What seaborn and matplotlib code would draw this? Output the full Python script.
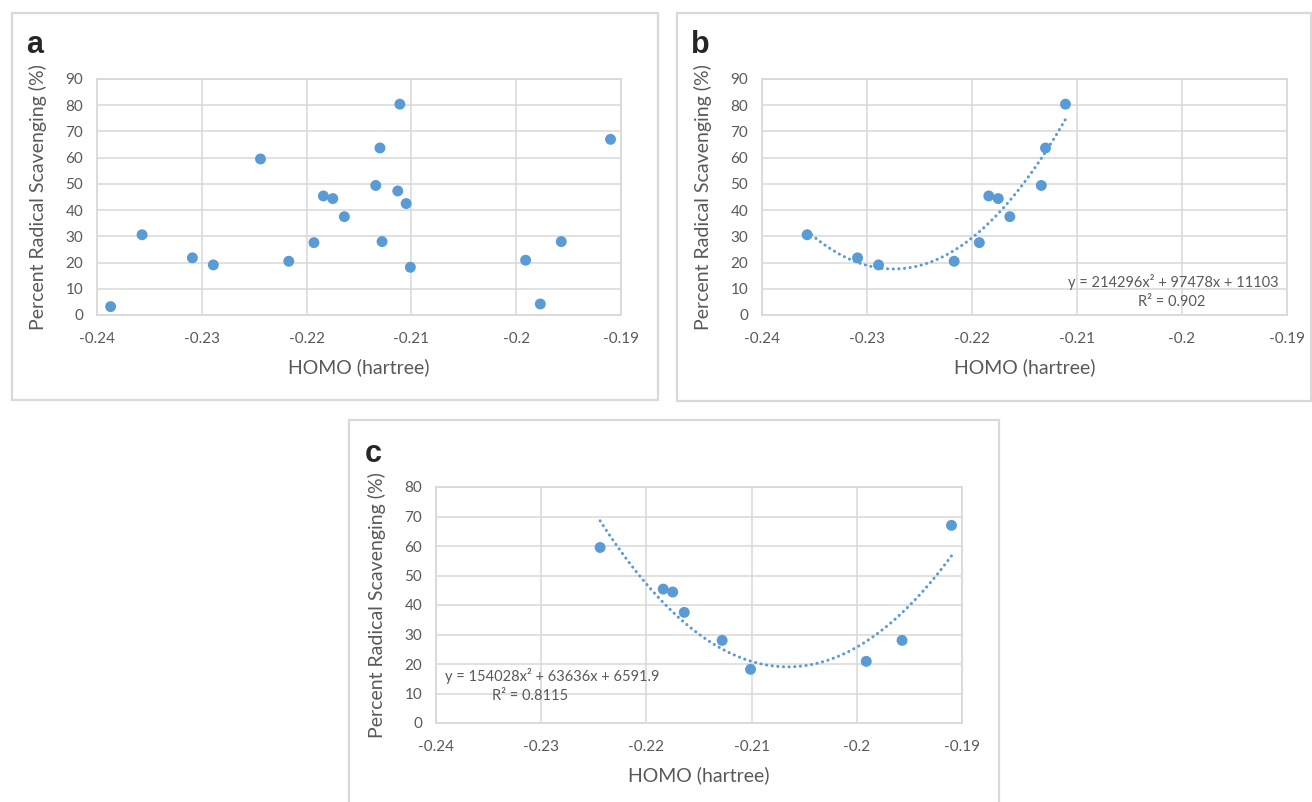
import numpy as np
import pandas as pd
import seaborn as sns
import matplotlib
matplotlib.use("Agg")
import matplotlib.pyplot as plt
from matplotlib.patches import Rectangle

# ---------------- data ----------------
homo_a = [-0.2387, -0.2357, -0.2309, -0.2289, -0.2244, -0.2217, -0.2193, -0.2184,
          -0.2175, -0.2164, -0.2134, -0.2130, -0.2128, -0.2111, -0.2113, -0.2105,
          -0.2101, -0.1991, -0.1977, -0.1957, -0.1910]
scav_a = [3.2, 30.6, 21.8, 19.1, 59.5, 20.5, 27.6, 45.4,
          44.4, 37.5, 49.4, 63.7, 28.0, 80.4, 47.3, 42.5,
          18.2, 20.9, 4.2, 28.0, 67.0]

homo_b = [-0.2357, -0.2309, -0.2289, -0.2217, -0.2193, -0.2184, -0.2175, -0.2164,
          -0.2134, -0.2130, -0.2111]
scav_b = [30.6, 21.8, 19.1, 20.5, 27.6, 45.4, 44.4, 37.5, 49.4, 63.7, 80.4]

homo_c = [-0.2244, -0.2184, -0.2175, -0.2164, -0.2128, -0.2101, -0.1991, -0.1957, -0.1910]
scav_c = [59.5, 45.4, 44.4, 37.5, 28.0, 18.2, 20.9, 28.0, 67.0]

x_ticks = [-0.24, -0.23, -0.22, -0.21, -0.20, -0.19]
x_ticklabels = ["-0.24", "-0.23", "-0.22", "-0.21", "-0.2", "-0.19"]
y_ticks_ab = [0, 10, 20, 30, 40, 50, 60, 70, 80, 90]
y_ticks_c = [0, 10, 20, 30, 40, 50, 60, 70, 80]

eq_b = ["y = 214296x\u00b2 + 97478x + 11103", "R\u00b2 = 0.902"]
eq_c = ["y = 154028x\u00b2 + 63636x + 6591.9", "R\u00b2 = 0.8115"]

xlabel = "HOMO (hartree)"
ylabel = "Percent Radical Scavenging (%)"

# ---------------- style ----------------
sns.set_theme(style="white")
plt.rcParams["font.family"] = ["Lato", "DejaVu Sans"]

W, H = 1312, 802
fig = plt.figure(figsize=(W / 100, H / 100), dpi=100)
fig.patch.set_facecolor("white")

BLUE = "#5b9bd5"
GRID = "#d9d9d9"
TXT = "#595959"
BOX = "#d9d9d9"


def px_axes(left, top, right, bottom):
    return fig.add_axes([left / W, 1 - bottom / H, (right - left) / W, (bottom - top) / H])


def px_box(left, top, right, bottom):
    r = Rectangle((left / W, 1 - bottom / H), (right - left) / W, (bottom - top) / H,
                  transform=fig.transFigure, fill=False, edgecolor=BOX, linewidth=1.6,
                  zorder=0)
    fig.patches.append(r)


# panel frames
px_box(12, 13, 658, 400)
px_box(677, 13, 1311, 401)
px_box(349, 420, 999, 806)


def style_axes(ax, yticks, ymax):
    ax.set_xlim(-0.24, -0.19)
    ax.set_ylim(0, ymax)
    ax.set_xticks(x_ticks)
    ax.set_xticklabels(x_ticklabels)
    ax.set_yticks(yticks)
    ax.tick_params(axis="both", length=0, labelsize=11, colors=TXT)
    ax.tick_params(axis="x", pad=12)
    ax.tick_params(axis="y", pad=10)
    ax.grid(True, color=GRID, linewidth=1.1)
    ax.set_axisbelow(True)
    for s in ax.spines.values():
        s.set_visible(True)
        s.set_color(GRID)
        s.set_linewidth(1.3)
    ax.set_xlabel(xlabel, fontsize=14, color=TXT, labelpad=9)
    ax.set_ylabel(ylabel, fontsize=14, color=TXT, labelpad=13)


def scatter(ax, xs, ys):
    df = pd.DataFrame({"x": xs, "y": ys})
    sns.scatterplot(data=df, x="x", y="y", ax=ax, color=BLUE, s=62,
                    edgecolor="none", zorder=3, legend=False)


def trend(ax, xs, ys):
    df = pd.DataFrame({"x": xs, "y": ys})
    sns.regplot(data=df, x="x", y="y", ax=ax, order=2, ci=None, scatter=False,
                truncate=True,
                line_kws=dict(color=BLUE, linewidth=2.2, linestyle=(0, (0.05, 1.8)),
                              dash_capstyle="round", zorder=2))


# ---- panel a ----
ax_a = px_axes(97, 79, 621, 315)
scatter(ax_a, homo_a, scav_a)
style_axes(ax_a, y_ticks_ab, 90)
fig.text(26 / W, 1 - 45 / H, "a", fontsize=22, fontweight="bold",
         family=["Liberation Sans", "DejaVu Sans"], va="center", ha="left")

# ---- panel b ----
ax_b = px_axes(762, 79, 1287, 315)
trend(ax_b, homo_b, scav_b)
scatter(ax_b, homo_b, scav_b)
style_axes(ax_b, y_ticks_ab, 90)
ax_b.text(-0.19075, 12.6, eq_b[0], fontsize=10.5, color=TXT, ha="right", va="center")
ax_b.text(-0.2010, 5.0, eq_b[1], fontsize=10.5, color=TXT, ha="center", va="center")
fig.text(691 / W, 1 - 45 / H, "b", fontsize=22, fontweight="bold",
         family=["Liberation Sans", "DejaVu Sans"], va="center", ha="left")

# ---- panel c ----
ax_c = px_axes(436, 487, 962, 723)
trend(ax_c, homo_c, scav_c)
scatter(ax_c, homo_c, scav_c)
style_axes(ax_c, y_ticks_c, 80)
ax_c.text(-0.2391, 15.9, eq_c[0], fontsize=10.5, color=TXT, ha="left", va="center")
ax_c.text(-0.2311, 9.2, eq_c[1], fontsize=10.5, color=TXT, ha="center", va="center")
fig.text(365 / W, 1 - 454 / H, "c", fontsize=22, fontweight="bold",
         family=["Liberation Sans", "DejaVu Sans"], va="center", ha="left")

fig.savefig("out.png", dpi=100, facecolor="white")
